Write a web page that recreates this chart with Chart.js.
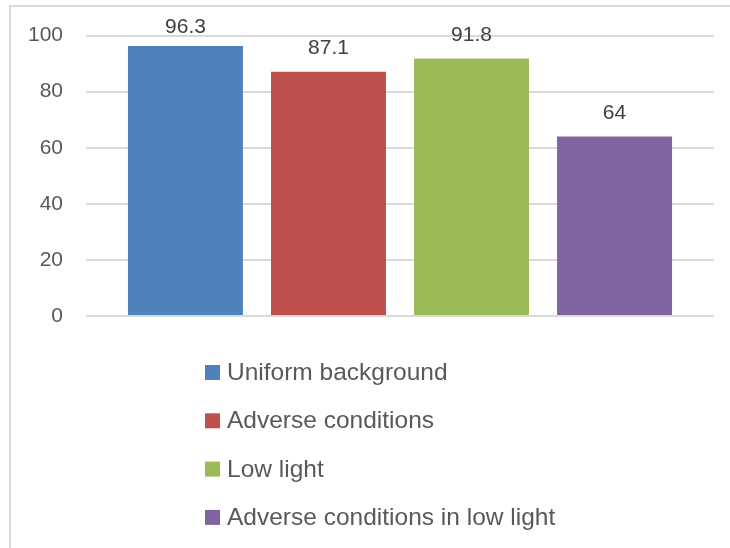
<!DOCTYPE html>
<html>
<head>
<meta charset="utf-8">
<script src="https://cdn.jsdelivr.net/npm/chart.js@4/dist/chart.umd.min.js"></script>
<style>
  html, body { margin: 0; padding: 0; background: #ffffff; }
  #wrap { position: relative; width: 730px; height: 548px; overflow: hidden; }
  #frame {
    position: absolute; left: 9px; top: 5px; width: 800px; height: 600px;
    border-left: 2px solid #d9d9d9; border-top: 2px solid #d9d9d9;
  }
  #c { position: absolute; left: 0; top: 0; }
</style>
</head>
<body>
<div id="wrap">
  <div id="frame"></div>
  <canvas id="c" width="730" height="548"></canvas>
</div>
<script>
// Recognition accuracy (%) per test condition
const categories = [''];
const seriesNames = [
  'Uniform background',
  'Adverse conditions',
  'Low light',
  'Adverse conditions in low light'
];
const seriesValues = [96.3, 87.1, 91.8, 64];
const seriesColors = ['#4f81bd', '#c0504d', '#9bbb59', '#8064a2'];
const yTicks = [0, 20, 40, 60, 80, 100];

const FONT = "'Liberation Sans', Arial, sans-serif";

// Value labels above each bar
const valueLabels = {
  id: 'valueLabels',
  afterDatasetsDraw(chart) {
    const ctx = chart.ctx;
    ctx.save();
    ctx.font = '21px ' + FONT;
    ctx.fillStyle = '#404040';
    ctx.textAlign = 'center';
    ctx.textBaseline = 'alphabetic';
    chart.data.datasets.forEach((ds, i) => {
      const meta = chart.getDatasetMeta(i);
      meta.data.forEach((bar, j) => {
        const y = Math.max(bar.y - 18, chart.chartArea.top - 3);
        ctx.fillText(String(ds.data[j]), bar.x, y);
      });
    });
    ctx.restore();
  }
};

// Vertical legend under the plot, one series per row
const stackedLegend = {
  id: 'stackedLegend',
  afterDraw(chart) {
    const ctx = chart.ctx;
    const area = chart.chartArea;
    const x0 = area.left + 119;
    const top0 = area.bottom + 49;
    const rowH = 48.3;
    const box = 15;
    ctx.save();
    ctx.font = '24.5px ' + FONT;
    ctx.fillStyle = '#595959';
    ctx.textAlign = 'left';
    ctx.textBaseline = 'alphabetic';
    chart.data.datasets.forEach((ds, i) => {
      const y = top0 + i * rowH;
      ctx.fillStyle = ds.backgroundColor;
      ctx.fillRect(x0, y, box, box);
      ctx.fillStyle = '#595959';
      ctx.fillText(ds.label, x0 + box + 7, y + box);
    });
    ctx.restore();
  }
};

new Chart(document.getElementById('c'), {
  type: 'bar',
  data: {
    labels: categories,
    datasets: seriesNames.map((name, i) => ({
      label: name,
      data: [seriesValues[i]],
      backgroundColor: seriesColors[i],
      borderWidth: 0,
      categoryPercentage: 0.911,
      barPercentage: 0.804
    }))
  },
  options: {
    responsive: false,
    animation: false,
    layout: { padding: { top: 35, right: 16, bottom: 232, left: 0 } },
    plugins: {
      legend: { display: false },
      tooltip: { enabled: false }
    },
    scales: {
      x: { display: false },
      y: {
        min: 0,
        max: 100,
        afterBuildTicks(scale) { scale.ticks = yTicks.map(v => ({ value: v })); },
        afterFit(scale) { scale.width = 86; },
        border: { display: false },
        grid: { color: '#d9d9d9', lineWidth: 2, drawTicks: false },
        ticks: {
          padding: 23,
          color: '#595959',
          font: { family: FONT, size: 21 }
        }
      }
    }
  },
  plugins: [valueLabels, stackedLegend]
});
</script>
</body>
</html>
